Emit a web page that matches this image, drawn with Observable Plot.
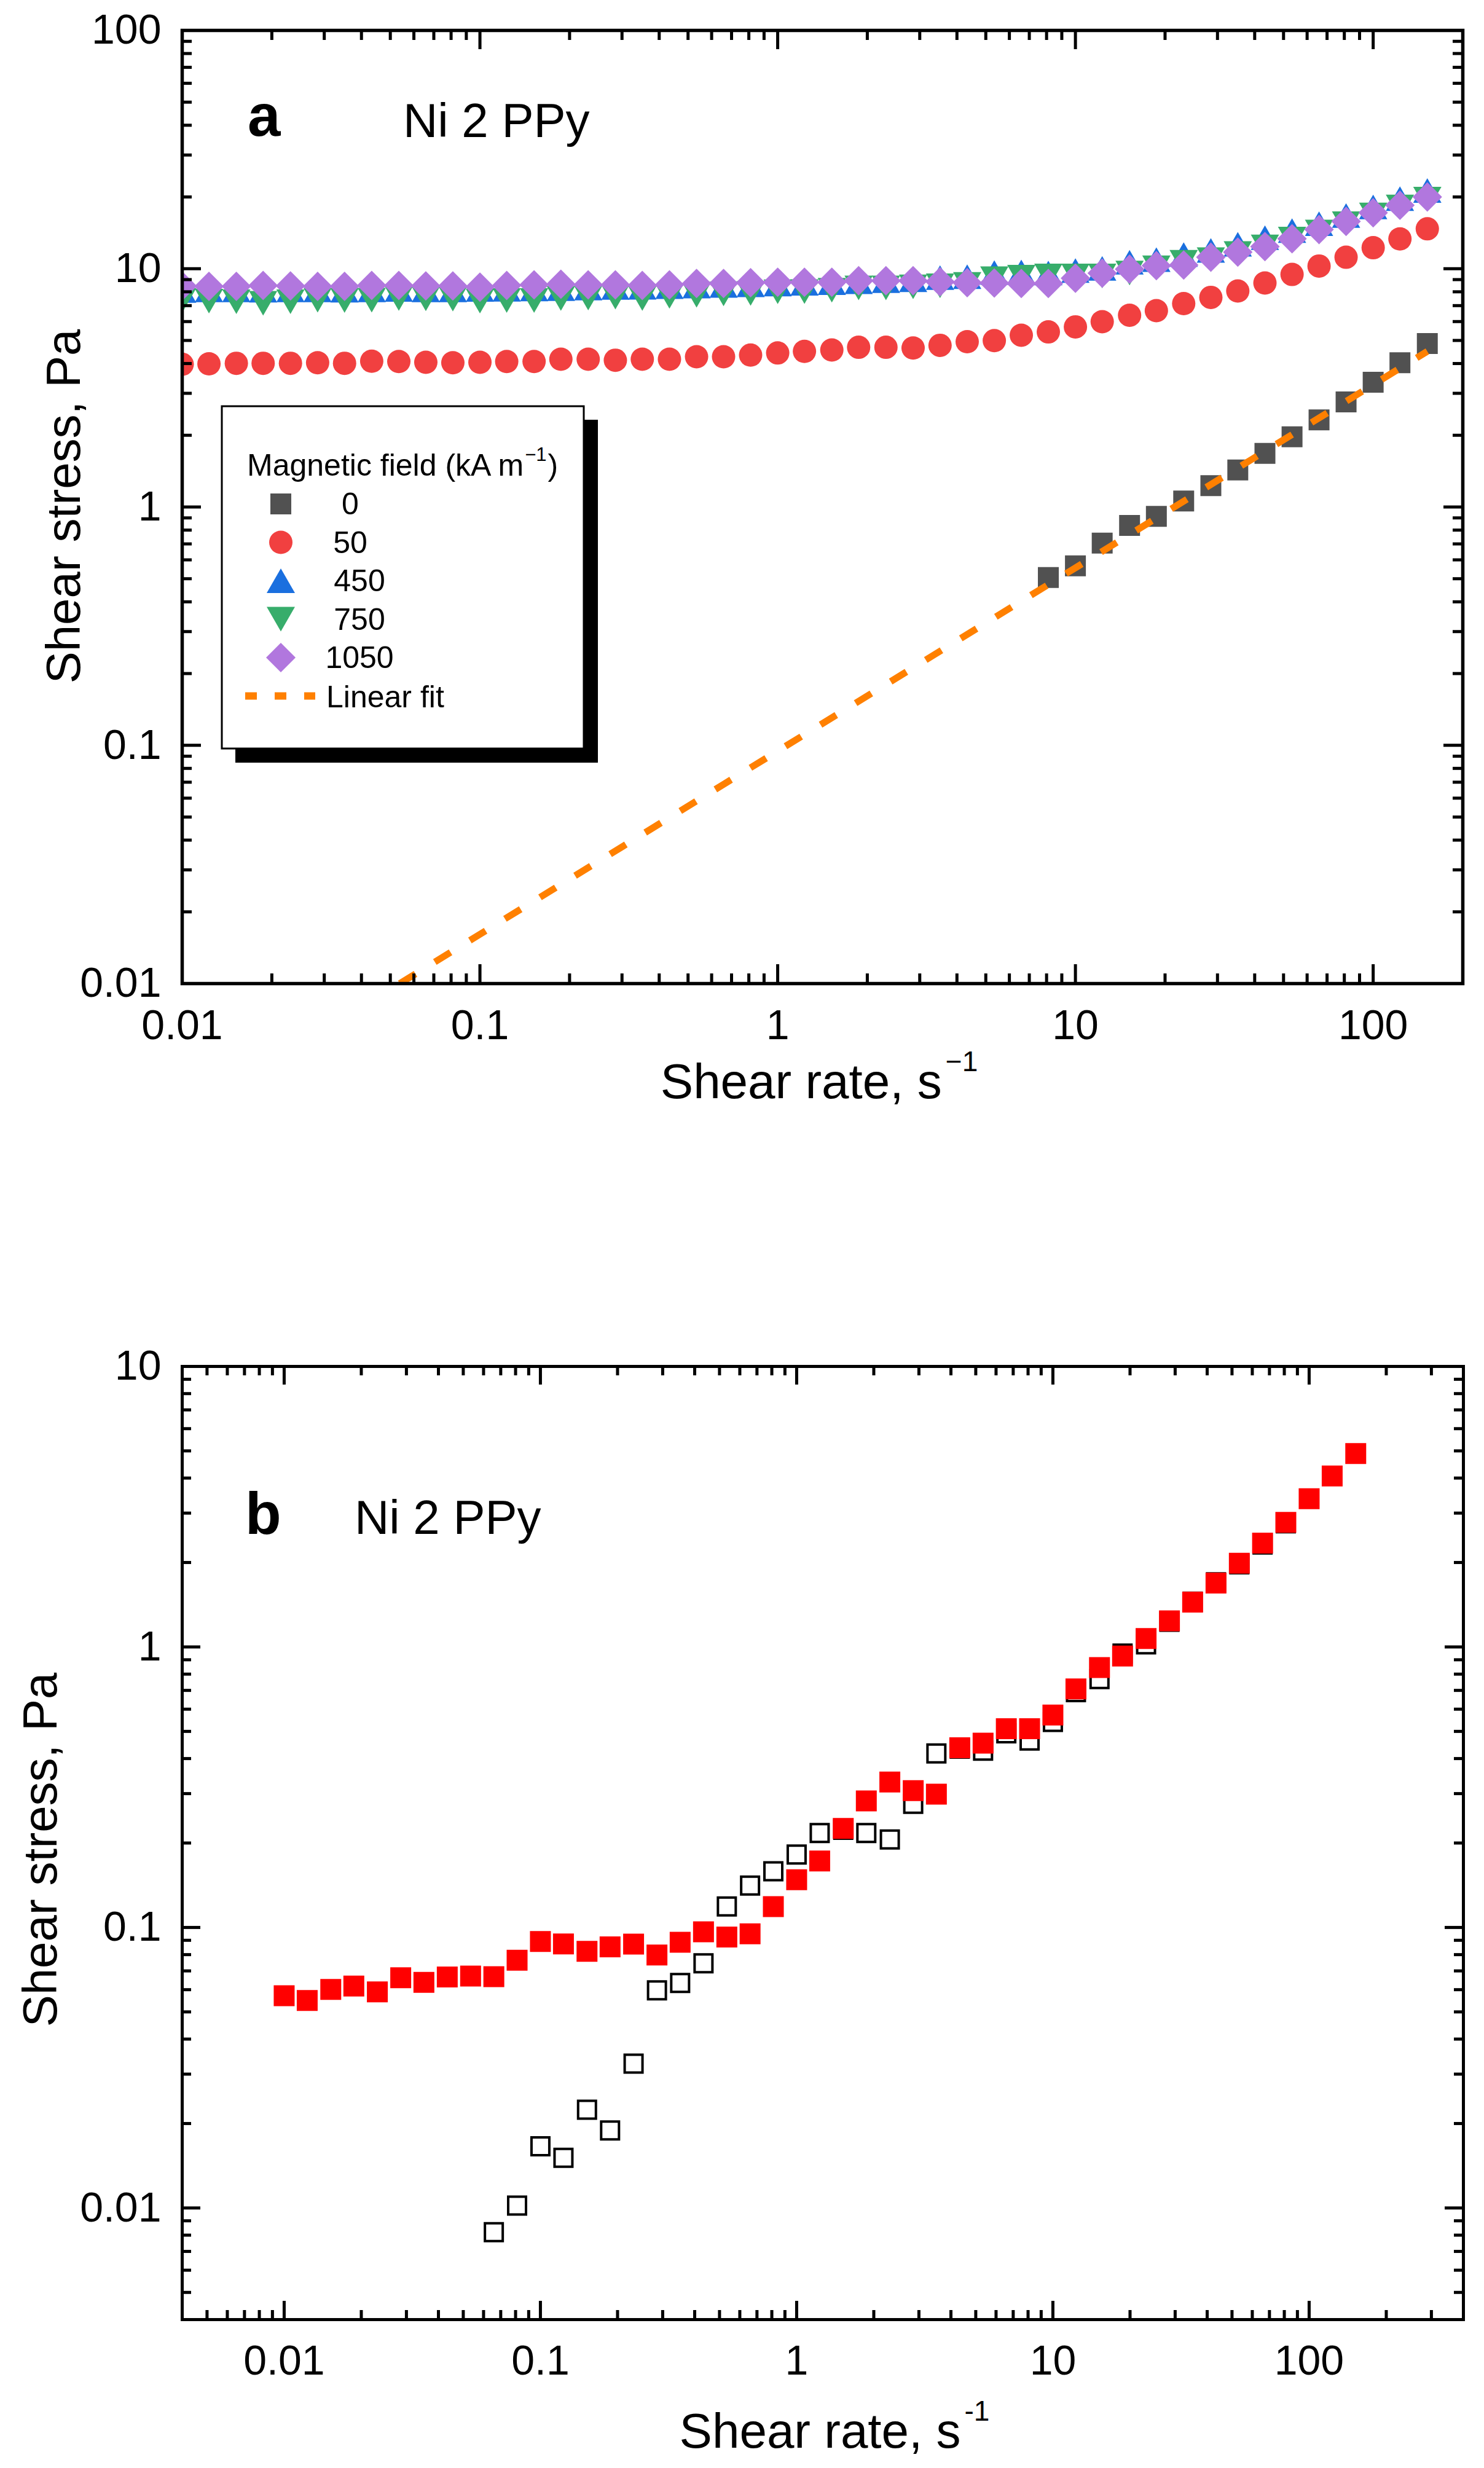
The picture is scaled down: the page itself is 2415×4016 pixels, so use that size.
<!DOCTYPE html>
<html><head><meta charset="utf-8">
<script src="https://cdn.jsdelivr.net/npm/d3@7"></script>
<script src="https://cdn.jsdelivr.net/npm/@observablehq/plot@0.6"></script>
<style>
body{margin:0;background:#fff;}
#wrap{width:2415px;height:4016px;background:#fff;}
#wrap svg{display:block;}
</style></head><body><div id="wrap"></div>
<script>
// ---------------- DATA ----------------
// shear rates (s^-1), logarithmic ramp
const rateA = [0.01,0.0123,0.0152,0.0187,0.0231,0.0285,0.0351,0.0433,0.0534,0.0658,0.0811,0.1,0.123,0.152,0.187,0.231,0.285,0.351,0.433,0.534,0.658,0.811,1,1.23,1.52,1.87,2.31,2.85,3.51,4.33,5.34,6.58,8.11,10,12.3,15.2,18.7,23.1,28.5,35.1,43.3,53.4,65.8,81.1,100,123,152];
// panel a, field 0 kA/m
const rateA0 = [8.11,10,12.3,15.2,18.7,23.1,28.5,35.1,43.3,53.4,65.8,81.1,100,123,152];
const stressA0 = [0.506,0.566,0.705,0.837,0.914,1.06,1.23,1.43,1.68,1.97,2.32,2.76,3.34,4.03,4.85];
// panel a, 50 kA/m
const stressA50 = [3.97,3.99,4.01,4.01,4.01,4.03,4.01,4.09,4.08,4.05,4.03,4.05,4.08,4.08,4.17,4.17,4.13,4.17,4.17,4.27,4.27,4.34,4.43,4.50,4.56,4.68,4.68,4.65,4.77,4.94,4.99,5.26,5.43,5.70,5.99,6.38,6.67,7.14,7.58,8.06,8.71,9.46,10.26,11.17,12.25,13.34,14.7];
// panel a, 450 kA/m
const stressA450 = [8.1,8.15,8.15,8.12,8.15,8.15,8.12,8.15,8.18,8.15,8.15,8.18,8.2,8.22,8.25,8.3,8.34,8.36,8.4,8.45,8.5,8.56,8.62,8.68,8.73,8.82,8.91,8.98,9.18,9.26,9.64,9.70,9.59,9.83,10.03,10.64,10.91,11.47,11.93,12.67,13.49,14.46,15.44,16.71,18.16,19.68,21.3];
// panel a, 750 kA/m
const stressA750 = [7.36,7.31,7.27,7.16,7.27,7.38,7.35,7.38,7.50,7.48,7.45,7.31,7.35,7.35,7.50,7.53,7.60,7.50,7.65,7.74,7.84,7.87,8.00,8.02,8.12,8.31,8.31,8.39,8.48,8.6,9.08,9.22,9.33,9.33,9.33,9.59,10.09,10.64,10.91,11.58,12.35,13.31,14.26,15.44,16.82,18.16,19.6];
// panel a, 1050 kA/m
const stressA1050 = [8.45,8.43,8.43,8.51,8.47,8.43,8.43,8.51,8.51,8.47,8.47,8.37,8.51,8.56,8.61,8.56,8.56,8.51,8.56,8.67,8.67,8.73,8.78,8.78,8.78,8.90,8.90,8.90,8.81,8.73,8.71,8.67,8.67,9.12,9.58,9.96,10.30,10.36,11.17,11.74,12.39,13.36,14.60,15.79,17.16,18.45,20.0];
// panel a, linear fit (end points)
const fitRate = [0.0538, 152];
const fitStress = [0.01, 4.5];
// panel a legend
const legendLabels = ["0","50","450","750","1050"];

// panel b, filled red squares
const rateB = rateA;
const stressBFilled = [0.0571,0.0549,0.0601,0.0618,0.0589,0.0662,0.0637,0.0666,0.0671,0.0668,0.0764,0.0891,0.0873,0.0822,0.0853,0.0872,0.0798,0.0886,0.0965,0.0924,0.0949,0.1187,0.148,0.1726,0.2254,0.2825,0.330,0.3076,0.2986,0.437,0.454,0.511,0.511,0.572,0.709,0.844,0.928,1.072,1.239,1.444,1.689,1.987,2.344,2.782,3.376,4.07,4.89];
// panel b, open squares
const rateBOpen = [0.0658,0.0811,0.1,0.123,0.152,0.187,0.231,0.285,0.351,0.433,0.534,0.658,0.811,1,1.23,1.52,1.87,2.31,2.85,3.51,4.33,5.34,6.58,8.11,10,12.3,15.2,18.7,23.1,28.5,35.1,43.3,53.4,65.8,81.1];
const stressBOpen = [0.0082,0.0102,0.0166,0.0151,0.0224,0.0189,0.0327,0.0597,0.0634,0.0745,0.1188,0.141,0.1585,0.182,0.217,0.223,0.217,0.206,0.276,0.417,0.434,0.427,0.492,0.464,0.540,0.690,0.768,0.947,1.021,1.23,1.45,1.70,1.97,2.32,2.76];

// ticks
const majorA_x = [0.01,0.1,1,10,100];
const majorA_y = [0.01,0.1,1,10,100];
const majorB_x = [0.01,0.1,1,10,100];
const majorB_y = [0.01,0.1,1,10];
const decadesA = [0.01,0.1,1,10,100];
const decadesB = [0.001,0.01,0.1,1,10,100];
const minorMult = [2,3,4,5,6,7,8,9];

// ---------------- HELPERS ----------------
const FONT = "'Liberation Sans', Arial, Helvetica, sans-serif";
const rows = (xs, ys) => xs.map((x, i) => ({x, y: ys[i]}));
function minorTicks(decades, lo, hi) {
  const out = [];
  for (const d of decades) for (const m of minorMult) {
    const v = +(d * m).toPrecision(6);
    if (v > lo * 1.0001 && v < hi * 0.9999) out.push(v);
  }
  return out;
}
const rad = s => Math.sqrt(s / Math.PI);
const SQ = {draw(c, s){ const r = rad(s); c.moveTo(-r,-r); c.lineTo(r,-r); c.lineTo(r,r); c.lineTo(-r,r); c.closePath(); }};
const TRI_UP = {draw(c, s){ const r = rad(s); c.moveTo(0,-r); c.lineTo(1.15*r,r); c.lineTo(-1.15*r,r); c.closePath(); }};
const TRI_DN = {draw(c, s){ const r = rad(s); c.moveTo(0,r); c.lineTo(1.15*r,-r); c.lineTo(-1.15*r,-r); c.closePath(); }};
const DIAM = {draw(c, s){ const r = rad(s); c.moveTo(0,-r); c.lineTo(r,0); c.lineTo(0,r); c.lineTo(-r,0); c.closePath(); }};
const CIRC = {draw(c, s){ const r = rad(s); c.moveTo(r,0); c.arc(0,0,r,0,2*Math.PI); c.closePath(); }};

const COL = {c0:"#515151", c50:"#F14040", c450:"#1A6FDF", c750:"#37AD6B", c1050:"#B177DE", fit:"#FF8000"};

function tickMarks(majX, minX, majY, minY, pw, ph, majLen, minLen, sw) {
  const st = {stroke: "black", strokeWidth: sw};
  return [
    Plot.tickX(majX, {x: d => d, insetTop: ph - majLen, ...st}),
    Plot.tickX(majX, {x: d => d, insetBottom: ph - majLen, ...st}),
    Plot.tickX(minX, {x: d => d, insetTop: ph - minLen, ...st}),
    Plot.tickX(minX, {x: d => d, insetBottom: ph - minLen, ...st}),
    Plot.tickY(majY, {y: d => d, insetRight: pw - majLen, ...st}),
    Plot.tickY(majY, {y: d => d, insetLeft: pw - majLen, ...st}),
    Plot.tickY(minY, {y: d => d, insetRight: pw - minLen, ...st}),
    Plot.tickY(minY, {y: d => d, insetLeft: pw - minLen, ...st})
  ];
}

// ---------------- PANEL A ----------------
const W = 2415;
const A = {h: 2000, top: 49, right: 35, bottom: 400, left: 296, xd: [0.01, 200], yd: [0.01, 100]};
const pwA = W - A.left - A.right, phA = A.h - A.top - A.bottom;
const svgA = Plot.plot({
  width: W, height: A.h,
  marginTop: A.top, marginRight: A.right, marginBottom: A.bottom, marginLeft: A.left,
  style: {fontFamily: FONT, background: "white", color: "black"},
  x: {type: "log", domain: A.xd},
  y: {type: "log", domain: A.yd},
  marks: [
    Plot.dot(rows(rateA0, stressA0), {x: "x", y: "y", symbol: SQ, r: 17, fill: COL.c0, stroke: "none", clip: true}),
    Plot.line(rows(fitRate, fitStress), {x: "x", y: "y", stroke: COL.fit, strokeWidth: 11, strokeDasharray: "30,37", strokeLinecap: "butt", clip: true}),
    Plot.dot(rows(rateA, stressA50), {x: "x", y: "y", symbol: CIRC, r: 19, fill: COL.c50, stroke: "none", clip: true}),
    Plot.dot(rows(rateA, stressA450), {x: "x", y: "y", symbol: TRI_UP, r: 20, fill: COL.c450, stroke: "none", clip: true}),
    Plot.dot(rows(rateA, stressA750), {x: "x", y: "y", symbol: TRI_DN, r: 20, fill: COL.c750, stroke: "none", clip: true}),
    Plot.dot(rows(rateA, stressA1050), {x: "x", y: "y", symbol: DIAM, r: 24, fill: COL.c1050, stroke: "none", clip: true}),
    ...tickMarks(majorA_x, minorTicks(decadesA, A.xd[0], A.xd[1]), majorA_y, minorTicks(decadesA, A.yd[0], A.yd[1]), pwA, phA, 31, 16, 5),
    Plot.frame({stroke: "black", strokeWidth: 5.5}),
    Plot.axisX({ticks: majorA_x, tickSize: 0, tickPadding: 42, tickFormat: d => String(d), fontSize: 68, label: null}),
    Plot.axisY({ticks: majorA_y, tickSize: 0, tickPadding: 34, tickFormat: d => String(d), fontSize: 68, label: null})
  ]
});

// ---------------- PANEL B ----------------
const B = {h: 2016, top: 223, right: 34, bottom: 242, left: 296, xd: [0.004, 400], yd: [0.004, 10]};
const pwB = W - B.left - B.right, phB = B.h - B.top - B.bottom;
const svgB = Plot.plot({
  width: W, height: B.h,
  marginTop: B.top, marginRight: B.right, marginBottom: B.bottom, marginLeft: B.left,
  style: {fontFamily: FONT, background: "white", color: "black"},
  x: {type: "log", domain: B.xd},
  y: {type: "log", domain: B.yd},
  marks: [
    Plot.dot(rows(rateBOpen, stressBOpen), {x: "x", y: "y", symbol: SQ, r: 14.5, fill: "white", stroke: "black", strokeWidth: 4, clip: true}),
    Plot.dot(rows(rateB, stressBFilled), {x: "x", y: "y", symbol: SQ, r: 17, fill: "#FF0000", stroke: "none", clip: true}),
    ...tickMarks(majorB_x, minorTicks(decadesB, B.xd[0], B.xd[1]), majorB_y, minorTicks(decadesB, B.yd[0], B.yd[1]), pwB, phB, 30, 15, 5),
    Plot.frame({stroke: "black", strokeWidth: 5}),
    Plot.axisX({ticks: majorB_x, tickSize: 0, tickPadding: 41, tickFormat: d => String(d), fontSize: 68, label: null}),
    Plot.axisY({ticks: majorB_y, tickSize: 0, tickPadding: 34, tickFormat: d => String(d), fontSize: 68, label: null})
  ]
});

// ---------------- ANNOTATIONS ----------------
function addText(svg, x, y, parts, opts = {}) {
  const t = d3.select(svg).append("text")
    .attr("x", x).attr("y", y)
    .attr("font-family", FONT).attr("fill", "black")
    .attr("font-size", opts.size || 78)
    .attr("font-weight", opts.weight || "normal")
    .attr("text-anchor", opts.anchor || "start");
  if (opts.rotate) t.attr("transform", `rotate(${opts.rotate},${x},${y})`);
  for (const p of parts) {
    const s = t.append("tspan").text(p.t);
    if (p.size) s.attr("font-size", p.size);
    if (p.dy) s.attr("dy", p.dy);
    if (p.dx) s.attr("dx", p.dx);
  }
  return t;
}

// panel a texts
addText(svgA, 403, 221, [{t: "a"}], {size: 96, weight: "bold"});
addText(svgA, 656, 223, [{t: "Ni 2 PPy"}], {size: 78});
addText(svgA, 1333, 1787, [{t: "Shear rate, s"}, {t: "\u22121", size: 46, dy: -44, dx: 6}], {size: 80, anchor: "middle"});
addText(svgA, 130, 824, [{t: "Shear stress, Pa"}], {size: 78, anchor: "middle", rotate: -90});

// panel a legend
{
  const g = d3.select(svgA).append("g");
  g.append("rect").attr("x", 383).attr("y", 683).attr("width", 590).attr("height", 558).attr("fill", "black");
  g.append("rect").attr("x", 361).attr("y", 661).attr("width", 589).attr("height", 557).attr("fill", "white").attr("stroke", "black").attr("stroke-width", 3);
  addText(g.node(), 402, 774, [{t: "Magnetic field (kA m"}, {t: "\u22121", size: 31, dy: -24, dx: 2}, {t: ")", size: 50, dy: 24, dx: 2}], {size: 50});
  const syms = [[SQ, 17, COL.c0], [CIRC, 19, COL.c50], [TRI_UP, 20, COL.c450], [TRI_DN, 20, COL.c750], [DIAM, 24, COL.c1050]];
  const labelX = [570, 570, 585, 585, 585];
  syms.forEach(([sym, r, col], i) => {
    const cy = 820 + 62.5 * i;
    g.append("path").attr("d", d3.symbol(sym, Math.PI * r * r)()).attr("transform", `translate(457,${cy})`).attr("fill", col);
    addText(g.node(), labelX[i], cy + 17, [{t: legendLabels[i]}], {size: 50, anchor: "middle"});
  });
  const fy = 820 + 62.5 * 5;
  g.append("line").attr("x1", 399).attr("x2", 513).attr("y1", fy).attr("y2", fy)
    .attr("stroke", COL.fit).attr("stroke-width", 12).attr("stroke-dasharray", "19,29");
  addText(g.node(), 531, fy + 18, [{t: "Linear fit"}], {size: 50});
}

// panel b texts
addText(svgB, 399, 496, [{t: "b"}], {size: 96, weight: "bold"});
addText(svgB, 577, 496, [{t: "Ni 2 PPy"}], {size: 78});
addText(svgB, 1358, 1983, [{t: "Shear rate, s"}, {t: "-1", size: 46, dy: -44, dx: 6}], {size: 80, anchor: "middle"});
addText(svgB, 92, 1010, [{t: "Shear stress, Pa"}], {size: 78, anchor: "middle", rotate: -90});

const wrap = document.getElementById("wrap");
wrap.appendChild(svgA);
wrap.appendChild(svgB);
</script>
</body></html>
